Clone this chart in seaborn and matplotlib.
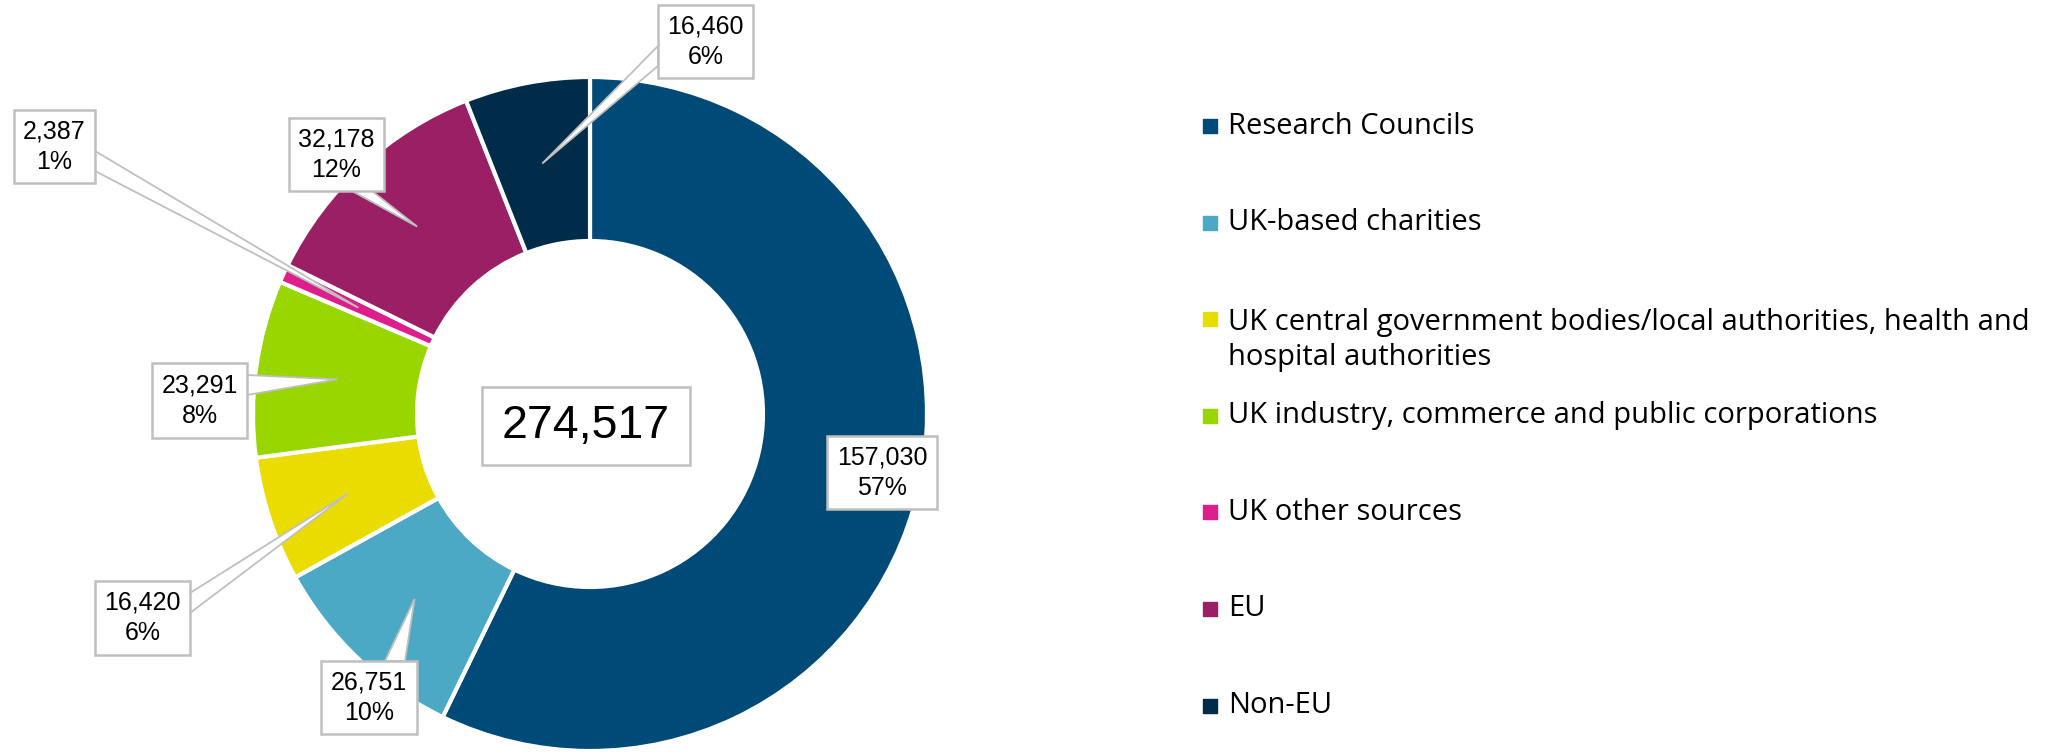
import numpy as np
import matplotlib
matplotlib.use("Agg")
import matplotlib.pyplot as plt
from matplotlib.patches import Rectangle, Polygon
import seaborn as sns

# data
categories = [
    "Research Councils",
    "UK-based charities",
    "UK central government bodies/local authorities, health and\nhospital authorities",
    "UK industry, commerce and public corporations",
    "UK other sources",
    "EU",
    "Non-EU",
]
values = [157030, 26751, 16420, 23291, 2387, 32178, 16460]
total = 274517
colors = ["#004A77", "#4BA9C6", "#EBDC00", "#99D600", "#DE1E8A", "#9A1F64", "#002B49"]

# layout (pixels, origin top-left)
W, H = 2072, 753
CX, CY = 590, 414
R_OUT, R_IN = 337, 173
label_boxes = [  # left, top, width, height
    (827, 436, 110, 73),
    (321, 661, 96, 73),
    (95, 581, 95, 74),
    (152, 363, 95, 75),
    (14, 110, 81, 73),
    (289, 118, 95, 73),
    (658, 5, 95, 73),
]
total_box = (482, 387, 208, 78)
legend_top, legend_step = 126, 96.6
GREY = "#BFBFBF"
LEGEND_FONT = ["Open Sans", "DejaVu Sans"]

sns.set_style("white")
plt.rcParams["font.family"] = ["Liberation Sans", "DejaVu Sans"]

fig = plt.figure(figsize=(W / 100, H / 100), dpi=100)
ax = fig.add_axes([0, 0, 1, 1])


def fy(y):
    return H - y


wedges, _ = ax.pie(values, colors=sns.color_palette(colors), startangle=90, counterclock=False,
                   center=(CX, fy(CY)), radius=R_OUT,
                   wedgeprops=dict(width=R_OUT - R_IN, edgecolor="white", linewidth=3))
ax.set_xlim(0, W)
ax.set_ylim(0, H)
ax.set_aspect("equal")
ax.axis("off")

r_mid = (R_OUT + R_IN) / 2
for w, v, (bl, bt, bw, bh) in zip(wedges, values, label_boxes):
    th = np.deg2rad((w.theta1 + w.theta2) / 2)
    tx, ty = CX + r_mid * np.cos(th), CY - r_mid * np.sin(th)
    br, bb = bl + bw, bt + bh
    dx = bl - tx if tx < bl else (tx - br if tx > br else 0)
    dy = bt - ty if ty < bt else (ty - bb if ty > bb else 0)
    if dx > 0 or dy > 0:
        if dx >= dy:
            ex = bl if tx < bl else br
            c = np.clip(ty, bt + 22, bb - 22)
            pts = [(ex, c - 10), (tx, ty), (ex, c + 10)]
        else:
            ey = bt if ty < bt else bb
            c = np.clip(tx, bl + 22, br - 22)
            pts = [(c - 10, ey), (tx, ty), (c + 10, ey)]
        ax.add_patch(Polygon([(x, fy(y)) for x, y in pts], closed=True, facecolor="white",
                             edgecolor=GREY, linewidth=1.3, zorder=3))
    ax.add_patch(Rectangle((bl, fy(bb)), bw, bh, facecolor="white", edgecolor=GREY,
                           linewidth=1.8, zorder=4))
    ax.text(bl + bw / 2, fy(bt + bh / 2), f"{v:,}\n{v / total:.0%}", ha="center", va="center",
            fontsize=18, linespacing=1.35, color="#000000", zorder=5)

# total in the middle
bl, bt, bw, bh = total_box
ax.add_patch(Rectangle((bl, fy(bt + bh)), bw, bh, facecolor="white", edgecolor=GREY,
                       linewidth=1.8, zorder=4))
ax.text(bl + bw / 2, fy(bt + bh / 2), f"{total:,}", ha="center", va="center",
        fontsize=33.5, color="#000000", zorder=5)

# legend
for i, (lab, col) in enumerate(zip(categories, colors)):
    y = legend_top + i * legend_step
    ax.scatter([1210], [fy(y)], marker="s", s=110, color=col, zorder=5)
    if "\n" in lab:
        ax.text(1228, fy(y - 11), lab, ha="left", va="top", fontsize=21, linespacing=1.25,
                family=LEGEND_FONT, color="#000000")
    else:
        ax.text(1228, fy(y), lab, ha="left", va="center", fontsize=21,
                family=LEGEND_FONT, color="#000000")

fig.savefig("out.png", dpi=100)
